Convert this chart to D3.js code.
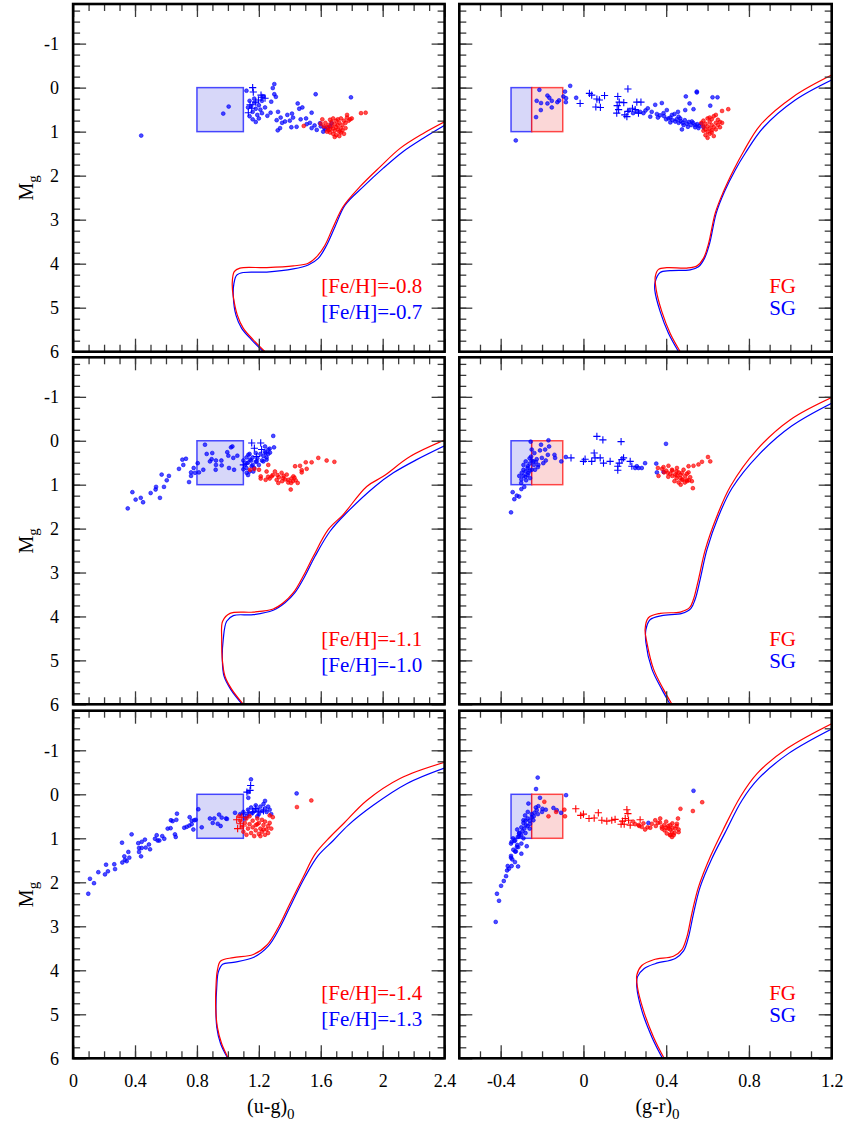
<!DOCTYPE html>
<html>
<head>
<meta charset="utf-8">
<script src="https://cdn.jsdelivr.net/npm/d3@7"></script>
<style>
body { margin: 0; background: #fff; }
svg { display: block; }
text { font-family: "Liberation Serif", "Times New Roman", serif; }
</style>
</head>
<body>
<svg id="chart" width="852" height="1129"></svg>
<script>
// ---- axes / ticks ----
const mgDomain = [6, -1.9]
const mgMajor = [-1, 0, 1, 2, 3, 4, 5, 6]
const mgMinor = d3.range(-1.75, 6, 0.25)
const ugDomain = [0, 2.4]
const ugMajor = [0, 0.4, 0.8, 1.2, 1.6, 2, 2.4]
const ugMinor = d3.range(1, 24).map(d => d / 10)
const grDomain = [-0.6, 1.2]
const grMajor = [-0.4, 0, 0.4, 0.8, 1.2]
const grMinor = d3.range(-5, 12).map(d => d / 10)

// ---- HB boxes ----
const boxMg = [0, 1]
const ugBoxSG = [0.8, 1.1]
const grBoxSG = [-0.35, -0.25]
const grBoxFG = [-0.25, -0.1]

// ---- legends ----
const ugLegend = [["[Fe/H]=-0.8", "[Fe/H]=-0.7"], ["[Fe/H]=-1.1", "[Fe/H]=-1.0"], ["[Fe/H]=-1.4", "[Fe/H]=-1.3"]]
const grLegend = ["FG", "SG"]

// ---- isochrones [colour, Mg] ----
const ugIsoFG1 = [[1.240,6.0],[1.164,5.73],[1.100,5.47],[1.061,5.17],[1.035,4.75],[1.028,4.45],[1.041,4.18],[1.078,4.10],[1.251,4.09],[1.423,4.05],[1.519,3.99],[1.574,3.84],[1.627,3.58],[1.681,3.16],[1.745,2.70],[1.853,2.25],[1.983,1.80],[2.112,1.38],[2.262,1.04],[2.403,0.77]]
const ugIsoSG1 = [[1.229,6.0],[1.153,5.73],[1.089,5.47],[1.052,5.17],[1.035,4.75],[1.039,4.45],[1.057,4.26],[1.100,4.20],[1.251,4.19],[1.423,4.12],[1.519,4.03],[1.584,3.88],[1.638,3.58],[1.692,3.16],[1.757,2.67],[1.875,2.25],[2.004,1.83],[2.133,1.45],[2.262,1.15],[2.403,0.85]]
const grIsoFG1 = [[0.468,6.0],[0.419,5.58],[0.379,5.09],[0.352,4.60],[0.347,4.30],[0.363,4.13],[0.403,4.09],[0.500,4.10],[0.549,4.05],[0.580,3.88],[0.605,3.54],[0.637,2.85],[0.677,2.36],[0.726,1.87],[0.774,1.45],[0.855,0.85],[1.016,0.20],[1.202,-0.29]]
const grIsoSG1 = [[0.460,6.0],[0.411,5.58],[0.371,5.09],[0.345,4.60],[0.347,4.41],[0.371,4.20],[0.419,4.16],[0.516,4.14],[0.556,4.07],[0.585,3.88],[0.610,3.54],[0.642,2.85],[0.682,2.36],[0.734,1.87],[0.782,1.49],[0.871,0.90],[1.024,0.28],[1.202,-0.18]]
const ugIsoFG2 = [[1.100,6.0],[1.025,5.66],[0.981,5.36],[0.964,4.98],[0.960,4.52],[0.966,4.11],[1.014,3.93],[1.164,3.90],[1.293,3.83],[1.358,3.69],[1.423,3.46],[1.487,3.08],[1.552,2.63],[1.649,2.02],[1.745,1.68],[1.897,1.04],[2.004,0.81],[2.177,0.36],[2.403,-0.02]]
const ugIsoSG2 = [[1.093,6.0],[1.018,5.66],[0.975,5.36],[0.964,4.98],[0.970,4.52],[0.992,4.11],[1.035,3.98],[1.164,3.96],[1.293,3.86],[1.369,3.69],[1.433,3.46],[1.498,3.08],[1.563,2.63],[1.660,2.06],[1.767,1.64],[1.950,1.04],[2.069,0.73],[2.220,0.43],[2.403,0.11]]
const grIsoFG2 = [[0.428,6.0],[0.387,5.66],[0.339,5.20],[0.307,4.60],[0.298,4.30],[0.314,4.03],[0.371,3.93],[0.468,3.90],[0.513,3.80],[0.532,3.61],[0.556,3.16],[0.589,2.48],[0.645,1.72],[0.710,1.04],[0.839,0.20],[1.000,-0.48],[1.202,-0.99]]
const grIsoSG2 = [[0.419,6.0],[0.379,5.66],[0.331,5.20],[0.302,4.60],[0.302,4.30],[0.323,4.07],[0.379,3.98],[0.476,3.93],[0.519,3.82],[0.540,3.61],[0.564,3.16],[0.597,2.48],[0.653,1.72],[0.718,1.08],[0.847,0.32],[1.008,-0.34],[1.202,-0.86]]
const ugIsoFG3 = [[1.003,6.0],[0.960,5.67],[0.932,5.29],[0.921,4.83],[0.923,4.38],[0.932,4.00],[0.953,3.79],[1.035,3.71],[1.164,3.64],[1.251,3.43],[1.326,3.02],[1.401,2.48],[1.487,1.88],[1.563,1.36],[1.660,0.97],[1.746,0.67],[1.897,0.14],[2.112,-0.36],[2.403,-0.73]]
const ugIsoSG3 = [[0.999,6.0],[0.953,5.67],[0.928,5.29],[0.923,4.83],[0.928,4.38],[0.938,4.04],[0.966,3.86],[1.035,3.82],[1.164,3.71],[1.261,3.45],[1.337,3.02],[1.412,2.48],[1.498,1.88],[1.584,1.39],[1.681,1.05],[1.778,0.70],[1.939,0.25],[2.155,-0.24],[2.403,-0.60]]
const grIsoFG3 = [[0.390,6.0],[0.339,5.52],[0.290,4.91],[0.261,4.38],[0.258,4.11],[0.282,3.89],[0.339,3.76],[0.435,3.68],[0.476,3.53],[0.500,3.24],[0.524,2.71],[0.556,2.11],[0.613,1.42],[0.678,0.78],[0.758,0.06],[0.839,-0.47],[0.984,-1.04],[1.202,-1.61]]
const grIsoSG3 = [[0.382,6.0],[0.331,5.52],[0.282,4.91],[0.258,4.38],[0.261,4.15],[0.294,3.96],[0.347,3.85],[0.444,3.73],[0.484,3.56],[0.508,3.24],[0.532,2.71],[0.564,2.11],[0.621,1.46],[0.686,0.86],[0.766,0.14],[0.847,-0.36],[0.992,-0.93],[1.202,-1.49]]

// ---- stars [colour, Mg] ----
const ugSG1 = [[0.44,1.09],[0.97,0.59],[1.005,0.43],[1.12,0.07],[1.30,-0.08],[1.29,0.01],[1.30,0.15],[1.31,0.21],[1.28,0.32],[1.23,0.20],[1.21,0.50],[1.14,0.30],[1.15,0.42],[1.16,0.55],[1.17,0.35],[1.18,0.48],[1.19,0.62],[1.20,0.40],[1.13,0.45],[1.14,0.65],[1.16,0.72],[1.18,0.78],[1.20,0.70],[1.22,0.58],[1.24,0.45],[1.17,0.25],[1.22,0.30],[1.255,0.64],[1.276,0.57],[1.324,0.55],[1.315,0.74],[1.341,0.68],[1.369,0.77],[1.384,0.62],[1.414,0.59],[1.421,0.68],[1.451,0.36],[1.461,0.48],[1.481,0.45],[1.444,0.89],[1.41,0.90],[1.322,0.97],[1.337,0.92],[1.541,0.57],[1.567,0.15],[1.505,0.70],[1.509,0.83],[1.541,0.92],[1.595,0.81],[1.621,0.91],[1.795,0.22],[1.645,0.92],[1.67,0.81],[1.616,1.0],[1.574,0.96],[1.47,0.72],[1.53,0.80],[1.56,0.86],[1.60,0.88],[1.63,0.95],[1.66,0.88],[1.40,0.75],[1.35,0.80]]
const ugSGplus1 = [[1.16,0.0],[1.164,0.10],[1.214,0.17],[1.24,0.24],[1.197,0.28],[1.143,0.39],[1.132,0.57],[1.154,0.47],[1.22,0.22],[1.18,0.33]]
const ugFG1 = [[1.61,0.72],[1.63,0.80],[1.64,0.90],[1.65,0.85],[1.66,0.95],[1.66,1.02],[1.67,0.78],[1.67,0.88],[1.68,0.93],[1.68,1.05],[1.69,0.83],[1.69,0.98],[1.70,0.90],[1.70,1.08],[1.70,0.75],[1.71,0.95],[1.71,0.85],[1.72,1.00],[1.72,0.80],[1.72,1.10],[1.73,0.92],[1.73,0.70],[1.74,0.97],[1.74,0.85],[1.75,0.75],[1.75,1.05],[1.76,0.80],[1.76,0.92],[1.77,0.68],[1.78,0.75],[1.79,0.72],[1.80,0.70],[1.77,0.62],[1.68,0.70],[1.65,0.97],[1.62,0.88],[1.64,1.00],[1.69,1.12],[1.73,1.02],[1.71,0.72],[1.86,0.58],[1.89,0.57],[1.49,0.87],[1.60,0.82],[1.66,0.73]]

const grSG1 = [[-0.213,0.05],[-0.226,0.30],[-0.205,0.35],[-0.229,0.67],[-0.206,0.51],[-0.174,0.18],[-0.165,0.23],[-0.174,0.36],[-0.153,0.45],[-0.153,0.30],[-0.126,0.33],[-0.118,0.29],[-0.097,0.20],[-0.089,0.09],[-0.064,-0.04],[-0.084,0.24],[-0.085,0.33],[-0.035,0.23],[-0.327,1.20],[0.274,0.55],[0.311,0.47],[0.323,0.66],[0.347,0.39],[0.355,0.60],[0.379,0.35],[0.387,0.58],[0.403,0.51],[0.411,0.70],[0.428,0.62],[0.444,0.77],[0.457,0.55],[0.468,0.70],[0.484,0.85],[0.492,0.51],[0.495,0.20],[0.513,0.36],[0.548,0.09],[0.532,0.49],[0.524,0.77],[0.505,0.89],[0.540,0.85],[0.556,0.92],[0.476,0.95],[0.624,0.22],[0.648,0.22],[0.613,0.41],[0.420,0.79],[0.548,0.11],[0.29,0.58],[0.30,0.52],[0.33,0.55],[0.36,0.68],[0.37,0.63],[0.39,0.65],[0.40,0.72],[0.42,0.68],[0.43,0.74],[0.45,0.72],[0.46,0.80],[0.47,0.76],[0.48,0.80],[0.49,0.74],[0.50,0.82],[0.51,0.78],[0.52,0.85],[0.53,0.80],[0.54,0.90],[0.55,0.83],[0.56,0.87],[0.57,0.82],[0.58,0.90],[0.46,0.66],[0.44,0.60],[0.26,0.54],[0.24,0.58],[0.22,0.52]]
const grSGplus1 = [[0.029,0.13],[0.040,0.17],[-0.016,0.36],[0.065,0.26],[0.077,0.28],[0.102,0.18],[0.060,0.44],[0.082,0.45],[0.215,0.03],[0.166,0.20],[0.173,0.33],[0.195,0.34],[0.163,0.41],[0.161,0.58],[0.210,0.66],[0.215,0.54],[0.237,0.47],[0.258,0.33],[0.278,0.33],[0.250,0.50],[0.266,0.58],[0.20,0.62],[0.17,0.50]]
const grFG1 = [[0.57,0.80],[0.58,0.88],[0.58,0.75],[0.59,0.95],[0.59,0.82],[0.60,1.00],[0.60,0.70],[0.60,0.88],[0.61,0.78],[0.61,0.93],[0.61,1.05],[0.62,0.85],[0.62,0.72],[0.62,0.97],[0.63,0.65],[0.63,0.90],[0.63,1.10],[0.64,0.80],[0.64,0.95],[0.64,0.62],[0.65,0.85],[0.65,0.73],[0.66,0.78],[0.66,0.90],[0.60,1.14],[0.62,1.02],[0.59,1.08],[0.67,0.80],[0.67,0.53],[0.70,0.49],[0.61,0.68],[0.58,0.98]]

const ugSG2 = [[0.353,1.54],[0.383,1.17],[0.404,1.34],[0.437,1.30],[0.452,1.40],[0.501,1.19],[0.533,1.11],[0.536,1.05],[0.561,1.30],[0.587,1.05],[0.572,0.77],[0.605,0.90],[0.619,0.80],[0.684,0.64],[0.712,0.55],[0.706,0.43],[0.729,0.41],[0.749,0.94],[0.762,0.80],[0.762,0.72],[0.779,0.62],[0.787,0.73],[0.813,0.72],[0.805,0.51],[0.841,0.66],[0.852,0.09],[0.863,0.30],[0.899,0.28],[0.884,0.47],[0.895,0.42],[0.923,0.45],[0.923,0.55],[0.921,0.66],[0.958,0.45],[0.960,0.56],[0.996,0.26],[1.003,0.34],[1.020,0.15],[1.029,0.13],[1.035,0.39],[1.061,0.34],[1.007,0.62],[1.040,0.66],[1.293,-0.11],[1.298,0.15],[1.261,0.20],[1.272,0.27],[1.244,0.28],[1.250,0.43],[1.132,0.32],[1.143,0.43],[1.121,0.51],[1.154,0.58],[1.164,0.70],[1.121,0.73],[1.186,0.47],[1.229,0.47],[1.240,0.13],[1.10,0.45],[1.11,0.55],[1.12,0.38],[1.12,0.62],[1.13,0.50],[1.14,0.30],[1.14,0.70],[1.15,0.45],[1.16,0.55],[1.16,0.38],[1.17,0.62],[1.18,0.28],[1.18,0.48],[1.19,0.40],[1.20,0.55],[1.21,0.30],[1.22,0.45],[1.23,0.35],[1.24,0.25],[1.25,0.38],[1.26,0.30],[1.27,0.18],[1.13,0.78],[1.10,0.65]]
const ugSGplus2 = [[1.154,0.05],[1.212,0.05],[1.171,0.17],[1.218,0.20],[1.186,0.36],[1.100,0.55]]
const ugFG2 = [[1.171,0.64],[1.201,0.66],[1.212,0.81],[1.212,0.86],[1.250,0.70],[1.261,0.55],[1.244,0.89],[1.283,0.81],[1.304,0.70],[1.315,0.89],[1.326,0.96],[1.347,0.73],[1.358,0.85],[1.380,0.77],[1.390,0.89],[1.408,0.96],[1.406,1.11],[1.423,0.81],[1.434,0.58],[1.438,0.90],[1.451,0.96],[1.466,0.57],[1.477,0.67],[1.477,0.72],[1.509,0.64],[1.503,0.49],[1.541,0.49],[1.584,0.39],[1.638,0.45],[1.688,0.48],[1.36,0.80],[1.37,0.88],[1.33,0.83],[1.32,0.78],[1.29,0.78],[1.27,0.86],[1.26,0.82],[1.42,0.92],[1.41,0.86],[1.43,0.84],[1.143,0.66],[1.39,0.95],[1.35,0.92]]

const grSG2 = [[-0.350,1.63],[-0.342,1.17],[-0.334,1.33],[-0.322,1.25],[-0.311,1.27],[-0.301,0.96],[-0.286,1.05],[-0.277,0.90],[-0.298,0.73],[-0.290,0.66],[-0.279,0.47],[-0.269,0.58],[-0.266,0.73],[-0.258,0.85],[-0.253,0.36],[-0.250,0.20],[-0.255,0.02],[-0.242,0.47],[-0.237,0.28],[-0.234,0.66],[-0.226,0.42],[-0.218,0.55],[-0.210,0.22],[-0.205,0.09],[-0.201,0.39],[-0.194,0.51],[-0.185,0.20],[-0.182,0.45],[-0.172,0.32],[-0.169,-0.01],[-0.166,0.13],[-0.140,0.32],[-0.137,0.39],[-0.107,0.47],[-0.085,0.37],[0.399,0.07],[0.298,0.51],[0.282,0.62],[0.266,0.62],[0.352,0.52],[0.355,0.72],[0.387,0.71],[0.250,0.62],[0.258,0.58],[-0.29,0.80],[-0.28,0.70],[-0.27,0.62],[-0.26,0.52],[-0.25,0.45],[-0.26,0.40],[-0.28,0.82],[-0.30,0.88],[-0.27,0.78],[-0.25,0.66],[-0.24,0.55],[-0.23,0.48],[-0.29,0.55],[-0.26,0.68],[-0.31,0.80],[-0.22,0.60],[-0.30,1.10]]
const grSGplus2 = [[-0.060,0.39],[0.000,0.47],[0.008,0.42],[0.040,0.47],[0.052,0.28],[0.056,0.39],[0.065,-0.10],[0.094,-0.02],[0.081,0.39],[0.097,0.51],[0.129,0.47],[0.182,0.02],[0.166,0.58],[0.173,0.51],[0.166,0.67],[0.186,0.43],[0.194,0.39],[0.226,0.47],[0.234,0.58]]
const grFG2 = [[0.363,0.80],[0.387,0.60],[0.411,0.57],[0.408,0.73],[0.428,0.66],[0.444,0.77],[0.452,0.62],[0.460,0.72],[0.468,0.85],[0.476,0.73],[0.484,0.66],[0.492,0.80],[0.500,0.89],[0.508,0.72],[0.516,0.83],[0.524,0.92],[0.529,1.08],[0.500,0.92],[0.476,0.89],[0.452,0.79],[0.508,0.58],[0.532,0.57],[0.556,0.54],[0.573,0.48],[0.602,0.37],[0.613,0.47],[0.43,0.80],[0.44,0.92],[0.45,0.85],[0.46,0.95],[0.47,0.78],[0.48,0.88],[0.49,0.95],[0.50,0.75],[0.51,0.90],[0.47,1.00],[0.45,0.70],[0.43,0.68],[0.42,0.75],[0.40,0.68],[0.41,0.82],[0.39,0.72],[0.38,0.64],[0.36,0.62]]

const ugSG3 = [[0.098,2.26],[0.109,1.92],[0.135,2.02],[0.163,1.77],[0.206,1.82],[0.213,1.60],[0.225,1.75],[0.266,1.59],[0.271,1.70],[0.316,1.10],[0.318,1.55],[0.331,1.41],[0.335,1.49],[0.346,1.52],[0.357,1.31],[0.363,1.44],[0.378,0.91],[0.421,1.11],[0.426,1.22],[0.426,1.31],[0.439,1.41],[0.443,1.08],[0.443,1.22],[0.464,1.03],[0.469,1.21],[0.490,1.14],[0.497,1.25],[0.529,1.01],[0.540,0.93],[0.546,1.05],[0.557,1.05],[0.576,0.95],[0.589,1.01],[0.611,0.78],[0.630,0.77],[0.632,0.59],[0.643,0.61],[0.658,0.91],[0.663,0.97],[0.667,0.58],[0.671,0.44],[0.718,0.76],[0.734,0.74],[0.751,0.71],[0.753,0.52],[0.766,0.68],[0.766,0.60],[0.777,0.80],[0.783,0.59],[0.792,0.58],[0.809,0.34],[0.831,0.75],[0.884,0.55],[0.912,0.55],[0.902,0.65],[0.934,0.67],[0.943,0.46],[0.960,0.53],[0.953,0.72],[0.988,0.55],[0.994,0.56],[1.046,0.42],[1.149,-0.34],[1.132,-0.05],[1.132,0.08],[1.444,-0.02],[1.08,0.45],[1.10,0.40],[1.12,0.50],[1.13,0.35],[1.14,0.45],[1.15,0.30],[1.16,0.42],[1.17,0.38],[1.18,0.25],[1.19,0.35],[1.20,0.45],[1.21,0.28],[1.22,0.38],[1.23,0.22],[1.24,0.32],[1.25,0.40],[1.26,0.28],[1.27,0.35],[1.24,0.15],[1.11,0.55],[1.28,0.45],[1.19,0.50]]
const ugSGplus3 = [[1.147,-0.20],[1.123,-0.05],[1.143,-0.09],[1.10,0.45],[1.13,0.42],[1.16,0.40],[1.20,0.40],[1.23,0.38],[1.18,0.32]]
const ugFG3 = [[1.08,0.60],[1.09,0.75],[1.10,0.85],[1.11,0.65],[1.12,0.92],[1.12,0.55],[1.13,0.78],[1.14,0.68],[1.15,0.88],[1.16,0.60],[1.16,0.75],[1.17,0.95],[1.18,0.70],[1.18,0.82],[1.19,0.55],[1.20,0.90],[1.20,0.65],[1.21,0.78],[1.22,0.85],[1.22,0.58],[1.23,0.70],[1.24,0.92],[1.24,0.62],[1.25,0.80],[1.26,0.72],[1.26,0.88],[1.27,0.65],[1.28,0.78],[1.29,0.52],[1.27,0.48],[1.14,0.50],[1.21,0.95],[1.23,0.80],[1.19,0.68],[1.446,0.29],[1.539,0.14],[1.07,0.50]]
const ugFGplus3 = [[1.057,0.58],[1.063,0.78],[1.08,0.67],[1.09,0.52],[1.10,0.72]]

const grSG3 = [[-0.424,2.90],[-0.418,2.26],[-0.408,2.42],[-0.398,2.08],[-0.385,1.97],[-0.374,1.86],[-0.369,1.73],[-0.366,1.63],[-0.360,1.69],[-0.347,1.63],[-0.350,1.44],[-0.344,1.48],[-0.331,1.54],[-0.316,1.64],[-0.339,1.26],[-0.327,1.30],[-0.322,1.20],[-0.315,1.20],[-0.347,1.08],[-0.334,1.06],[-0.317,0.97],[-0.311,0.89],[-0.301,0.93],[-0.295,0.84],[-0.286,0.78],[-0.279,0.70],[-0.274,1.18],[-0.290,0.59],[-0.282,0.48],[-0.269,0.40],[-0.266,0.21],[-0.258,0.67],[-0.250,0.52],[-0.242,0.59],[-0.237,0.42],[-0.226,0.36],[-0.218,0.27],[-0.221,-0.38],[-0.229,-0.12],[-0.210,0.08],[-0.198,0.33],[-0.182,0.35],[-0.145,0.31],[-0.129,0.36],[-0.108,0.42],[-0.084,0.02],[0.532,-0.08],[0.314,0.65],[-0.32,0.80],[-0.30,0.75],[-0.31,0.95],[-0.29,0.65],[-0.28,0.88],[-0.27,0.72],[-0.26,0.60],[-0.29,1.00],[-0.33,1.05],[-0.32,1.15],[-0.30,1.12],[-0.27,0.55],[-0.25,0.45],[-0.24,0.50],[-0.26,0.78],[-0.28,0.60],[-0.31,0.88],[-0.34,1.00],[-0.35,1.12],[-0.33,1.30],[-0.30,1.35],[-0.35,1.40],[-0.22,0.45],[-0.20,0.40],[-0.23,0.30]]
const grFG3 = [[-0.189,0.17],[-0.169,0.50],[-0.132,0.40],[-0.092,0.35],[-0.089,0.50],[0.469,0.33],[0.529,0.38],[0.574,0.18],[0.266,0.70],[0.282,0.74],[0.298,0.80],[0.323,0.76],[0.331,0.67],[0.347,0.59],[0.360,0.65],[0.371,0.55],[0.379,0.74],[0.392,0.82],[0.403,0.89],[0.411,0.78],[0.419,0.70],[0.428,0.86],[0.436,0.93],[0.444,0.78],[0.452,0.67],[0.457,0.55],[0.460,0.86],[0.419,0.93],[0.428,0.97],[0.40,0.62],[0.41,0.72],[0.42,0.80],[0.43,0.66],[0.44,0.88],[0.45,0.72],[0.40,0.76],[0.39,0.70],[0.38,0.78],[0.42,0.92],[0.43,0.76],[0.46,0.80],[0.37,0.64],[0.35,0.72],[0.31,0.75],[0.29,0.66],[0.25,0.68],[0.24,0.62],[0.27,0.72]]
const grFGplus3 = [[-0.037,0.33],[-0.013,0.48],[0.000,0.45],[0.027,0.55],[0.052,0.54],[0.072,0.42],[0.089,0.59],[0.113,0.61],[0.137,0.59],[0.153,0.57],[0.182,0.68],[0.189,0.61],[0.210,0.35],[0.215,0.44],[0.202,0.55],[0.218,0.59],[0.226,0.70],[0.197,0.68],[0.274,0.58]]

// ---- layout ----
const red = "#ff0000", blue = "#0000ff"
const cols = [{ left: 73.1, right: 444.6 }, { left: 459.3, right: 831.7 }]
const rows = [{ top: 4, bottom: 351.7 }, { top: 357.3, bottom: 704.3 }, { top: 710.7, bottom: 1058.3 }]

const svg = d3.select("#chart")

const panels = [
  { row: 0, col: 0, iso: [ugIsoSG1, ugIsoFG1], sg: ugSG1, sgPlus: ugSGplus1, fg: ugFG1, fgPlus: [] },
  { row: 0, col: 1, iso: [grIsoSG1, grIsoFG1], sg: grSG1, sgPlus: grSGplus1, fg: grFG1, fgPlus: [] },
  { row: 1, col: 0, iso: [ugIsoSG2, ugIsoFG2], sg: ugSG2, sgPlus: ugSGplus2, fg: ugFG2, fgPlus: [] },
  { row: 1, col: 1, iso: [grIsoSG2, grIsoFG2], sg: grSG2, sgPlus: grSGplus2, fg: grFG2, fgPlus: [] },
  { row: 2, col: 0, iso: [ugIsoSG3, ugIsoFG3], sg: ugSG3, sgPlus: ugSGplus3, fg: ugFG3, fgPlus: ugFGplus3 },
  { row: 2, col: 1, iso: [grIsoSG3, grIsoFG3], sg: grSG3, sgPlus: [], fg: grFG3, fgPlus: grFGplus3 },
]

panels.forEach((p, i) => drawPanel(p, i))

function drawPanel(p, i) {
  const c = cols[p.col], r = rows[p.row]
  const isUG = p.col == 0
  const x = d3.scaleLinear().domain(isUG ? ugDomain : grDomain).range([c.left, c.right])
  const y = d3.scaleLinear().domain(mgDomain).range([r.bottom, r.top])
  const g = svg.append("g")

  g.append("clipPath").attr("id", `clip${i}`)
    .append("rect").attr("x", c.left).attr("y", r.top)
    .attr("width", c.right - c.left).attr("height", r.bottom - r.top)
  const plot = g.append("g").attr("clip-path", `url(#clip${i})`)

  // HB boxes
  const boxes = isUG ? [[ugBoxSG, blue, "#d7d7f9"]] : [[grBoxSG, blue, "#d7d7f9"], [grBoxFG, red, "#fbd7d7"]]
  boxes.forEach(([bx, col, fill]) => {
    plot.append("rect")
      .attr("x", x(bx[0])).attr("y", y(boxMg[0]))
      .attr("width", x(bx[1]) - x(bx[0])).attr("height", y(boxMg[1]) - y(boxMg[0]))
      .style("fill", fill)
      .style("stroke", col).style("stroke-opacity", 0.7).style("stroke-width", 1.5)
  })

  // isochrones, SG under FG
  const line = d3.line().x(d => x(d[0])).y(d => y(d[1])).curve(d3.curveCatmullRom.alpha(0.5))
  ;[[p.iso[0], blue], [p.iso[1], red]].forEach(([data, col]) => {
    plot.append("path").attr("d", line(data))
      .style("fill", "none").style("stroke", col).style("stroke-width", 1.2)
  })

  // stars
  const dots = (data, col) => plot.append("g").selectAll("circle").data(data).join("circle")
    .attr("cx", d => x(d[0])).attr("cy", d => y(d[1])).attr("r", 1.9)
    .style("fill", col).style("fill-opacity", 0.7)
    .style("stroke", col).style("stroke-width", 0.6)
  const plus = (data, col) => plot.append("g").selectAll("path").data(data).join("path")
    .attr("d", d => `M${x(d[0]) - 3.6},${y(d[1])}h7.2M${x(d[0])},${y(d[1]) - 3.6}v7.2`)
    .style("stroke", col).style("stroke-width", 1.1).style("fill", "none")
  dots(p.sg, blue)
  plus(p.sgPlus, blue)
  dots(p.fg, red)
  plus(p.fgPlus, red)

  // ticks, inward on all four sides
  const xMajor = isUG ? ugMajor : grMajor, xMinor = isUG ? ugMinor : grMinor
  const tickAxes = [
    [d3.axisLeft(y), `translate(${c.left},0)`, mgMajor, mgMinor],
    [d3.axisRight(y), `translate(${c.right},0)`, mgMajor, mgMinor],
    [d3.axisTop(x), `translate(0,${r.top})`, xMajor, xMinor],
    [d3.axisBottom(x), `translate(0,${r.bottom})`, xMajor, xMinor],
  ]
  tickAxes.forEach(([ax, tr, major, minor]) => {
    [[minor, -7], [major, -13]].forEach(([vals, size]) => {
      const a = g.append("g").attr("transform", tr)
        .call(ax.tickValues(vals).tickSize(size).tickFormat(""))
      a.select(".domain").remove()
      a.selectAll("line").style("stroke", "#3a3a3a").style("stroke-width", 1.3)
    })
  })

  // frame
  g.append("rect").attr("x", c.left).attr("y", r.top)
    .attr("width", c.right - c.left).attr("height", r.bottom - r.top)
    .style("fill", "none").style("stroke", "#000").style("stroke-width", 2.6)

  // y tick labels and title on the left column
  if (isUG) {
    const yl = g.append("g").attr("transform", `translate(${c.left},0)`)
      .call(d3.axisLeft(y).tickValues(mgMajor).tickSize(0).tickPadding(14).tickFormat(d => String(d)))
    yl.select(".domain").remove()
    yl.selectAll("text").style("font-size", "18px").style("font-family", "Liberation Serif").style("fill", "#000")

    const t = g.append("text")
      .attr("transform", `translate(33,${(r.top + r.bottom) / 2 + 10}) rotate(-90)`)
      .attr("text-anchor", "middle").style("font-size", "20px")
    t.append("tspan").text("M")
    t.append("tspan").text("g").attr("dy", 5).style("font-size", "15px")
  }

  // x tick labels and title on the bottom row
  if (p.row == 2) {
    const xl = g.append("g").attr("transform", `translate(0,${r.bottom})`)
      .call(d3.axisBottom(x).tickValues(xMajor).tickSize(0).tickPadding(16).tickFormat(d => String(d)))
    xl.select(".domain").remove()
    xl.selectAll("text").style("font-size", "18px").style("font-family", "Liberation Serif").style("fill", "#000")

    const t = g.append("text")
      .attr("x", (c.left + c.right) / 2 + 12).attr("y", 1113)
      .attr("text-anchor", "middle").style("font-size", "20px")
    t.append("tspan").text(isUG ? "(u-g)" : "(g-r)")
    t.append("tspan").text("0").attr("dy", 6).style("font-size", "15px")
  }

  // legend
  const labels = isUG ? ugLegend[p.row] : grLegend
  const lx = isUG ? c.right - 22.3 : c.right - 35.7
  const gap = isUG ? 26 : 21.7
  labels.forEach((txt, k) => {
    g.append("text").attr("x", lx).attr("y", r.bottom - 58.5 + k * gap)
      .attr("text-anchor", "end").style("font-size", "21px")
      .style("fill", k == 0 ? red : blue).text(txt)
  })
}
</script>
</body>
</html>
